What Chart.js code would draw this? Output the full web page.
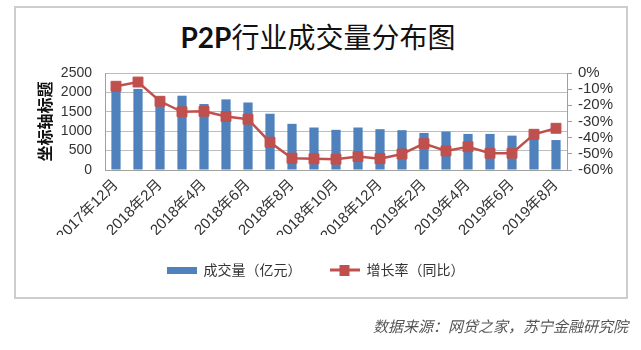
<!DOCTYPE html>
<html>
<head>
<meta charset="utf-8">
<style>
  body { margin: 0; background: #fff; width: 641px; height: 350px; position: relative; overflow: hidden; }
  #frame { position: absolute; left: 14px; top: 6px; width: 614px; height: 293px; border: 2px solid #cdcdcd; box-sizing: border-box; }
  #title { position: absolute; left: 0; top: 16px; width: 636px; text-align: center; font: 28px "Noto Sans CJK SC", sans-serif; color: #111; line-height: 40px; }
  #title b { font-family: Lato, "Liberation Sans", sans-serif; font-weight: 700; }
  #source { position: absolute; right: 13px; top: 315px; font: italic 15px "Noto Sans CJK SC", sans-serif; color: #555; }
  #wrap { position: absolute; left: 0; top: 0; width: 641px; height: 350px; }
</style>
</head>
<body>
<div id="frame"></div>
<div id="title"><b>P2P</b>行业成交量分布图</div>
<div id="wrap"><canvas id="p2pChart" width="641" height="350"></canvas></div>
<div id="source">数据来源：网贷之家，苏宁金融研究院</div>

<script src="https://cdn.jsdelivr.net/npm/chart.js"></script>
<script>
  const months = ['2017年12月', '2018年1月', '2018年2月', '2018年3月', '2018年4月', '2018年5月', '2018年6月',
    '2018年7月', '2018年8月', '2018年9月', '2018年10月', '2018年11月', '2018年12月', '2019年1月',
    '2019年2月', '2019年3月', '2019年4月', '2019年5月', '2019年6月', '2019年7月', '2019年8月'];
  // 成交量（亿元）
  const volume = [2150, 2090, 1800, 1915, 1700, 1820, 1740, 1450, 1190, 1095, 1035, 1095, 1052, 1026,
    956, 990, 930, 930, 886, 940, 772];
  // 增长率（同比，%）
  const growth = [-8.2, -5.6, -17.5, -24.0, -23.7, -26.9, -28.6, -42.8, -52.7, -53.1, -53.3, -51.7,
    -53.0, -50.1, -43.7, -48.2, -45.6, -49.6, -49.6, -37.9, -34.2];
  const volumeTicks = [0, 500, 1000, 1500, 2000, 2500];
  const growthTicks = [0, -10, -20, -30, -40, -50, -60];

  const blue = '#4f81bd';
  const red = '#c0504d';
  const textColor = '#333';
  const fontFamily = '"Liberation Sans", "Noto Sans CJK SC", sans-serif';

  // small legend swatches
  function barSwatch() {
    const c = document.createElement('canvas');
    c.width = 30; c.height = 7;
    const g = c.getContext('2d');
    g.fillStyle = blue;
    g.fillRect(0, 0, 30, 7);
    return c;
  }
  function lineSwatch() {
    const c = document.createElement('canvas');
    c.width = 30; c.height = 11;
    const g = c.getContext('2d');
    g.fillStyle = red;
    g.fillRect(0, 4, 30, 3);
    g.fillRect(10, 0, 10, 11);
    return c;
  }
  const swatches = [barSwatch(), lineSwatch()];

  const ctx = document.getElementById('p2pChart').getContext('2d');
  new Chart(ctx, {
    data: {
      labels: months,
      datasets: [
        {
          type: 'bar',
          label: '成交量（亿元）',
          data: volume,
          backgroundColor: blue,
          yAxisID: 'y',
          barPercentage: 0.42,
          categoryPercentage: 1,
          order: 1
        },
        {
          type: 'line',
          label: '增长率（同比）',
          data: growth,
          borderColor: red,
          backgroundColor: red,
          borderWidth: 2.5,
          pointStyle: 'rect',
          pointRadius: 7,
          pointBorderWidth: 1,
          tension: 0,
          yAxisID: 'y1',
          order: 0
        }
      ]
    },
    options: {
      responsive: false,
      animation: false,
      layout: { padding: { left: 14, right: 24, top: 73, bottom: 63 } },
      scales: {
        x: {
          grid: { display: false, drawTicks: false },
          border: { color: '#a0a0a0' },
          ticks: {
            autoSkip: false,
            minRotation: 45,
            maxRotation: 45,
            padding: 6,
            color: textColor,
            font: { family: fontFamily, size: 15 },
            callback: (val, i) => i % 2 === 0 ? months[i] : ''
          },
          afterFit: scale => { scale.height = 65; }
        },
        y: {
          position: 'left',
          min: 0,
          max: 2500,
          afterBuildTicks: scale => { scale.ticks = volumeTicks.map(v => ({ value: v })); },
          grid: { color: '#bdbdbd', drawTicks: false },
          border: { color: '#a0a0a0' },
          ticks: {
            autoSkip: false,
            padding: 13,
            color: textColor,
            font: { family: fontFamily, size: 14 },
            callback: value => String(value)
          },
          title: {
            display: true,
            text: '坐标轴标题',
            color: '#111',
            padding: { top: 21, bottom: 0 },
            font: { family: '"Noto Sans CJK SC", sans-serif', size: 16, weight: 'bold' }
          },
          afterFit: scale => { scale.width = 91; }
        },
        y1: {
          position: 'right',
          min: -60,
          max: 0,
          afterBuildTicks: scale => { scale.ticks = growthTicks.map(v => ({ value: v })); },
          grid: { drawOnChartArea: false, color: '#a0a0a0', tickLength: 5 },
          border: { color: '#a0a0a0' },
          ticks: {
            autoSkip: false,
            padding: 6,
            color: textColor,
            font: { family: fontFamily, size: 15 },
            callback: value => value + '%'
          },
          afterFit: scale => { scale.width = 50; }
        }
      },
      plugins: {
        title: { display: false },
        tooltip: { enabled: false },
        legend: {
          position: 'bottom',
          labels: {
            usePointStyle: true,
            pointStyleWidth: 30,
            padding: 28,
            color: textColor,
            font: { family: '"Noto Sans CJK SC", sans-serif', size: 14 },
            generateLabels: chart => chart.data.datasets.map((ds, i) => ({
              text: ds.label,
              pointStyle: swatches[i],
              fillStyle: i === 0 ? blue : red,
              strokeStyle: 'transparent',
              lineWidth: 0,
              fontColor: textColor,
              datasetIndex: i
            }))
          }
        }
      }
    }
  });
</script>
</body>
</html>
